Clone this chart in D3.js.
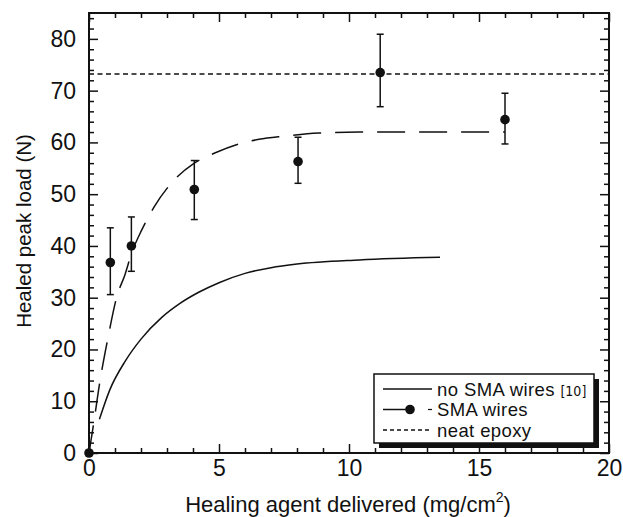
<!DOCTYPE html>
<html>
<head>
<meta charset="utf-8">
<script src="https://cdn.jsdelivr.net/npm/d3@7"></script>
<style>
  html, body { margin: 0; padding: 0; background: #fff; }
  svg { display: block; }
  text { font-family: "Liberation Sans", Arial, sans-serif; fill: #111; }
</style>
</head>
<body>
<svg id="chart" width="623" height="517"></svg>
<script>
// ---- data ----
const smaX     = [0, 0.82, 1.63, 4.05, 8.04, 11.2, 16.0];
const smaY     = [0, 36.8, 40.0, 50.9, 56.3, 73.5, 64.4];
const smaErrLo = [null, 30.6, 35.1, 45.1, 52.1, 66.9, 59.7];
const smaErrHi = [null, 43.5, 45.6, 56.5, 61.0, 80.9, 69.5];

// fitted curve through SMA-wire data (long dashes)
const fitX = [0, 0.17, 0.42, 0.74, 1.07, 1.38, 1.64, 2.03, 2.5, 3.18, 4.05, 4.86, 5.7, 6.54, 7.5, 8.84, 10.4, 12, 14, 16];
const fitY = [0, 5.4, 13.8, 22.5, 30.2, 34.4, 38.6, 43.1, 47.5, 52.2, 56.0, 58.0, 59.6, 60.6, 61.2, 61.8, 62.0, 62.0, 62.0, 62.0];

// no SMA wires [10] (solid)
const noSmaX = [0.4, 0.8, 1.4, 2.0, 2.8, 3.5, 4.2, 5.0, 6.0, 7.0, 8.0, 10.4, 13.5];
const noSmaY = [6.5, 12.2, 17.8, 22.0, 26.2, 28.9, 31.0, 32.9, 34.7, 35.8, 36.5, 37.3, 37.8];

// neat epoxy
const neatEpoxy = 73.2;

const xMajor = [0, 5, 10, 15, 20];
const xMinor = [1,2,3,4,6,7,8,9,11,12,13,14,16,17,18,19];
const yMajor = [0, 10, 20, 30, 40, 50, 60, 70, 80];
const yMinor = [2,4,6,8,12,14,16,18,22,24,26,28,32,34,36,38,42,44,46,48,52,54,56,58,62,64,66,68,72,74,76,78,82,84];

const legendLabels = ["no SMA wires", "SMA wires", "neat epoxy"];

// ---- layout ----
const L = 89, R = 609, T = 13, B = 453;
const svg = d3.select("#chart");
const x = d3.scaleLinear().domain([0, 20]).range([L, R]);
const y = d3.scaleLinear().domain([0, 85]).range([B, T]);

const fontSize = 23;

function styleAxis(g) {
  g.select(".domain").remove();
  g.selectAll("line").attr("stroke", "#111").attr("stroke-width", 1.5);
  g.selectAll("text").style("font-size", fontSize + "px").attr("fill", "#111")
    .style("font-family", '"Liberation Sans", Arial, sans-serif');
}

// bottom
svg.append("g").attr("transform", `translate(0,${B})`)
  .call(d3.axisBottom(x).tickValues(xMajor).tickSizeInner(-9).tickSizeOuter(0).tickPadding(7).tickFormat(d3.format("d")))
  .call(styleAxis);
svg.append("g").attr("transform", `translate(0,${B})`)
  .call(d3.axisBottom(x).tickValues(xMinor).tickSizeInner(-5).tickSizeOuter(0).tickFormat(""))
  .call(styleAxis);
// top
svg.append("g").attr("transform", `translate(0,${T})`)
  .call(d3.axisTop(x).tickValues(xMajor).tickSizeInner(-9).tickSizeOuter(0).tickFormat(""))
  .call(styleAxis);
svg.append("g").attr("transform", `translate(0,${T})`)
  .call(d3.axisTop(x).tickValues(xMinor).tickSizeInner(-5).tickSizeOuter(0).tickFormat(""))
  .call(styleAxis);
// left
svg.append("g").attr("transform", `translate(${L},0)`)
  .call(d3.axisLeft(y).tickValues(yMajor).tickSizeInner(-9).tickSizeOuter(0).tickPadding(13).tickFormat(d3.format("d")))
  .call(styleAxis);
svg.append("g").attr("transform", `translate(${L},0)`)
  .call(d3.axisLeft(y).tickValues(yMinor).tickSizeInner(-5).tickSizeOuter(0).tickFormat(""))
  .call(styleAxis);
// right
svg.append("g").attr("transform", `translate(${R},0)`)
  .call(d3.axisRight(y).tickValues(yMajor).tickSizeInner(-9).tickSizeOuter(0).tickFormat(""))
  .call(styleAxis);
svg.append("g").attr("transform", `translate(${R},0)`)
  .call(d3.axisRight(y).tickValues(yMinor).tickSizeInner(-5).tickSizeOuter(0).tickFormat(""))
  .call(styleAxis);

// frame
svg.append("rect").attr("x", L).attr("y", T).attr("width", R - L).attr("height", B - T)
  .attr("fill", "none").attr("stroke", "#111").attr("stroke-width", 2);

// neat epoxy line
svg.append("line").attr("x1", x(0)).attr("x2", x(20)).attr("y1", y(neatEpoxy)).attr("y2", y(neatEpoxy))
  .attr("stroke", "#111").attr("stroke-width", 1.5).attr("stroke-dasharray", "5,3.5");

const line = d3.line().x(d => x(d[0])).y(d => y(d[1])).curve(d3.curveMonotoneX);

// no SMA wires
svg.append("path").datum(noSmaX.map((v, i) => [v, noSmaY[i]]))
  .attr("d", line).attr("fill", "none").attr("stroke", "#111").attr("stroke-width", 1.5);

// fit curve
svg.append("path").datum(fitX.map((v, i) => [v, fitY[i]]))
  .attr("d", line).attr("fill", "none").attr("stroke", "#111").attr("stroke-width", 1.5)
  .attr("stroke-dasharray", "28,14");

// error bars
const pts = smaX.map((v, i) => ({x: v, y: smaY[i], lo: smaErrLo[i], hi: smaErrHi[i]}));
const eb = svg.append("g");
pts.filter(d => d.lo != null).forEach(d => {
  eb.append("line").attr("x1", x(d.x)).attr("x2", x(d.x)).attr("y1", y(d.lo)).attr("y2", y(d.hi))
    .attr("stroke", "#111").attr("stroke-width", 1.5);
  [d.lo, d.hi].forEach(v => eb.append("line").attr("x1", x(d.x) - 3.5).attr("x2", x(d.x) + 3.5)
    .attr("y1", y(v)).attr("y2", y(v)).attr("stroke", "#111").attr("stroke-width", 1.5));
});
svg.append("g").selectAll("circle").data(pts).join("circle")
  .attr("cx", d => x(d.x)).attr("cy", d => y(d.y)).attr("r", 4.8).attr("fill", "#111");

// legend
const lg = svg.append("g");
const bx = 374, by = 374, bw = 220, bh = 69;
lg.append("rect").attr("x", bx + 5).attr("y", by + 5).attr("width", bw).attr("height", bh).attr("fill", "#111");
lg.append("rect").attr("x", bx).attr("y", by).attr("width", bw).attr("height", bh)
  .attr("fill", "#fff").attr("stroke", "#111").attr("stroke-width", 1.5);
const rowY = [389, 409.5, 430];
const lx1 = 383, lx2 = 432, tx = 437;
const lfs = 18.5;
lg.append("line").attr("x1", lx1).attr("x2", lx2).attr("y1", rowY[0]).attr("y2", rowY[0])
  .attr("stroke", "#111").attr("stroke-width", 1.5);
lg.append("line").attr("x1", lx1).attr("x2", 410).attr("y1", rowY[1]).attr("y2", rowY[1])
  .attr("stroke", "#111").attr("stroke-width", 1.5);
lg.append("circle").attr("cx", 410).attr("cy", rowY[1]).attr("r", 4.8).attr("fill", "#111");
lg.append("line").attr("x1", 428).attr("x2", 432).attr("y1", rowY[1]).attr("y2", rowY[1])
  .attr("stroke", "#111").attr("stroke-width", 1.2);
lg.append("line").attr("x1", lx1).attr("x2", lx2).attr("y1", rowY[2]).attr("y2", rowY[2])
  .attr("stroke", "#111").attr("stroke-width", 1.3).attr("stroke-dasharray", "4,3");
const t0 = lg.append("text").attr("x", tx).attr("y", rowY[0] + 6.5).style("font-size", lfs + "px")
  .style("letter-spacing", "0.4px");
t0.append("tspan").text(legendLabels[0] + " ");
t0.append("tspan").text("[10]").style("font-size", "14px").style("letter-spacing", "0px")
  .style("font-family", '"Liberation Sans Narrow", "DejaVu Sans Condensed", sans-serif');
lg.append("text").attr("x", tx).attr("y", rowY[1] + 6.5).style("font-size", lfs + "px")
  .style("letter-spacing", "0.4px").text(legendLabels[1]);
lg.append("text").attr("x", tx).attr("y", rowY[2] + 6.5).style("font-size", lfs + "px")
  .style("letter-spacing", "0.4px").text(legendLabels[2]);

// axis titles
const xt = svg.append("text").attr("x", 348).attr("y", 512).attr("text-anchor", "middle").style("font-size", "22px");
xt.append("tspan").text("Healing agent delivered (mg/cm");
xt.append("tspan").text("2").attr("dy", -10).style("font-size", "14px");
xt.append("tspan").text(")").attr("dy", 10);

svg.append("text").attr("transform", "translate(31,231) rotate(-90)").attr("text-anchor", "middle")
  .style("font-size", "20.5px").text("Healed peak load (N)");
</script>
</body>
</html>
